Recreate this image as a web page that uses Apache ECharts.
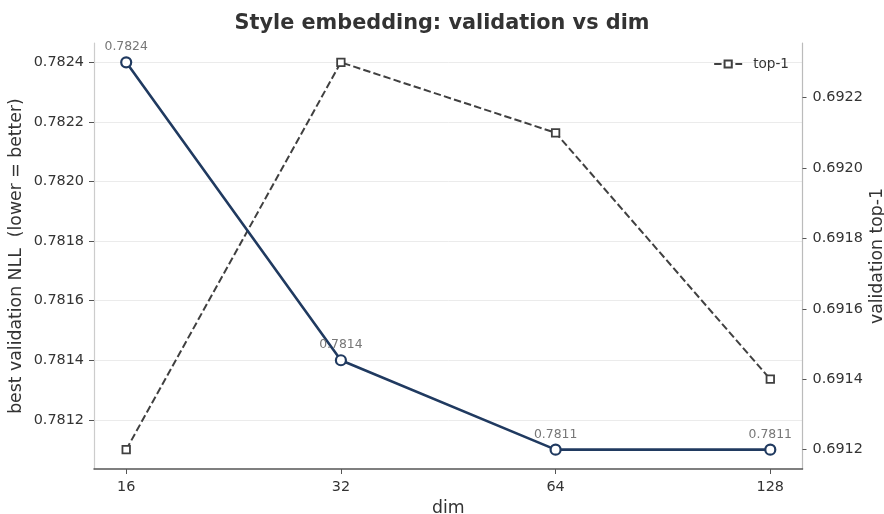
<!DOCTYPE html>
<html>
<head>
<meta charset="utf-8">
<script src="https://cdn.jsdelivr.net/npm/echarts@6/dist/echarts.min.js"></script>
<style>html,body{margin:0;padding:0;background:#fff}#c{width:884px;height:514px}</style>
</head>
<body>
<div id="c"></div>
<script>
const dims = [16, 32, 64, 128];
const nllValues = [0.7824, 0.7814, 0.7811, 0.7811];
const top1Values = [0.6912, 0.6923, 0.6921, 0.6914];
const leftTicks = [0.7812, 0.7814, 0.7816, 0.7818, 0.7820, 0.7822, 0.7824];
const rightTicks = [0.6912, 0.6914, 0.6916, 0.6918, 0.6920, 0.6922];

const FONT = 'DejaVu Sans';
const chart = echarts.init(document.getElementById('c'), null, {renderer: 'canvas'});
const idx = dims.map((d, i) => i);

chart.setOption({
  animation: false,
  textStyle: {fontFamily: FONT},
  title: {
    text: 'Style embedding: validation vs dim',
    left: 'center', top: 8,
    textStyle: {fontFamily: FONT, fontSize: 20.8, fontWeight: 'bold', color: '#333'}
  },
  legend: {
    data: ['top-1'],
    right: 95, top: 57, padding: 0,
    itemWidth: 28, itemHeight: 9,
    textStyle: {fontFamily: FONT, fontSize: 13.6, color: '#333', padding: [0, 0, 0, 6]}
  },
  grid: {left: 94, right: 81.5, top: 43, bottom: 45, containLabel: false, outerBoundsMode: 'none'},
  xAxis: {
    type: 'value', min: -0.15, max: 3.15,
    name: 'dim', nameLocation: 'middle', nameGap: 31, nameMoveOverlap: false,
    nameTextStyle: {fontFamily: FONT, fontSize: 17.3, color: '#333'},
    axisLine: {show: true, onZero: false, lineStyle: {color: '#555', width: 1.5}},
    axisTick: {show: true, customValues: idx, length: 5, lineStyle: {color: '#555'}},
    axisLabel: {customValues: idx, formatter: v => String(dims[Math.round(v)]), fontFamily: FONT, fontSize: 14.4, color: '#333', margin: 11},
    splitLine: {show: false}
  },
  yAxis: [{
    type: 'value', position: 'left', min: 0.781035, max: 0.782465,
    name: 'best validation NLL  (lower = better)', nameLocation: 'middle', nameGap: 69, nameMoveOverlap: false,
    nameTextStyle: {fontFamily: FONT, fontSize: 17.3, color: '#333'},
    axisLine: {show: true, onZero: false, lineStyle: {color: '#ccc', width: 1.2}},
    axisTick: {show: true, customValues: leftTicks, length: 5, lineStyle: {color: '#555'}},
    axisLabel: {customValues: leftTicks, formatter: v => v.toFixed(4), fontFamily: FONT, fontSize: 14.4, color: '#333', margin: 10},
    splitLine: {show: true, lineStyle: {color: '#ebebeb', width: 1}}
  }, {
    type: 'value', position: 'right', min: 0.691145, max: 0.692355,
    name: 'validation top-1', nameLocation: 'middle', nameGap: 67, nameMoveOverlap: false,
    nameTextStyle: {fontFamily: FONT, fontSize: 17.3, color: '#333'},
    axisLine: {show: true, onZero: false, lineStyle: {color: '#bbb', width: 1.2}},
    axisTick: {show: true, customValues: rightTicks, length: 4, lineStyle: {color: '#555'}},
    axisLabel: {customValues: rightTicks, formatter: v => v.toFixed(4), fontFamily: FONT, fontSize: 14.4, color: '#333', margin: 10},
    splitLine: {show: false}
  }],
  series: [{
    name: 'NLL', type: 'line', yAxisIndex: 0,
    data: nllValues.map((v, i) => [i, v]),
    symbol: 'circle', symbolSize: 10,
    lineStyle: {color: '#203a60', width: 2.6},
    itemStyle: {color: '#fff', borderColor: '#203a60', borderWidth: 2.2},
    label: {show: true, position: 'top', distance: 3, formatter: p => p.value[1].toFixed(4), color: '#777', fontSize: 12.4, fontFamily: FONT},
    z: 3
  }, {
    name: 'top-1', type: 'line', yAxisIndex: 1,
    data: top1Values.map((v, i) => [i, v]),
    symbol: 'rect', symbolSize: 7.5,
    lineStyle: {color: '#404040', width: 2, type: [7.4, 3.2]},
    itemStyle: {color: '#fff', borderColor: '#404040', borderWidth: 1.8},
    z: 2
  }]
});
</script>
</body>
</html>
